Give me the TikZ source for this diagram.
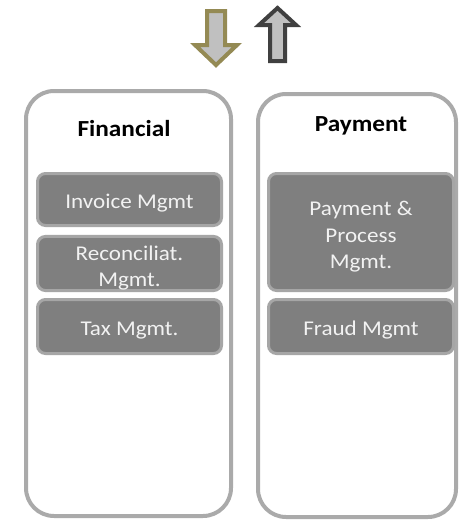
\documentclass[tikz,border=0pt]{standalone}
\usepackage{fontspec}
\setmainfont{Carlito}[FakeStretch=1.1]
\usetikzlibrary{positioning}
\definecolor{frameGray}{RGB}{170,170,170}
\definecolor{boxGray}{RGB}{127,127,127}
\definecolor{boxEdge}{RGB}{166,166,166}
\definecolor{boxText}{RGB}{242,242,242}
\definecolor{arrowTan}{RGB}{148,138,84}
\definecolor{arrowDark}{RGB}{64,64,64}
\definecolor{arrowFill}{RGB}{192,192,192}

\begin{document}
\begin{tikzpicture}[x=1pt, y=-1pt,
    domainbox/.style={draw=frameGray, line width=4pt, fill=white, rounded corners=28pt, inner sep=0pt},
    module/.style={draw=boxEdge, line width=3pt, fill=boxGray, rounded corners=8pt, minimum width=#1, inner sep=0pt, align=center, text=boxText, font=\fontsize{21}{26.5}\selectfont, execute at begin node={\rule{0pt}{22pt}}},
    module/.default=184pt,
    heading/.style={font=\fontsize{23}{27}\selectfont\bfseries, text=black}]
    \useasboundingbox (0,0) rectangle (459,522);
    % direction arrows
    \draw[draw=arrowTan, fill=arrowFill, line width=4pt] (207,11) -- (225,11) -- (225,45) -- (237,45) -- (216,65) -- (195,45) -- (207,45) -- cycle;
    \draw[draw=arrowDark, fill=arrowFill, line width=4pt] (270,61) -- (285,61) -- (285,25) -- (296,25) -- (277.5,8) -- (259,25) -- (270,25) -- cycle;
    % domains
    \node[domainbox, minimum width=205pt, minimum height=425pt] (financial) at (128.5,303.5) {};
    \node[domainbox, minimum width=198pt, minimum height=423pt] (payment) at (357,305.5) {};
    \node[heading] (financialTitle) at (124,129) {Financial};
    \node[heading] (paymentTitle) at (361,126) {Payment};
    % financial modules
    \node[module, minimum height=52pt] (invoice) at (129.5,199.5) {Invoice Mgmt};
    \node[module, minimum height=54pt] (reconcile) at (129.5,263.5) {\rule{0pt}{24pt}Reconciliat.\\Mgmt.};
    \node[module, minimum height=54pt] (tax) at (129.5,326.5) {Tax Mgmt.};
    % payment modules
    \node[module=185pt, minimum height=117pt] (process) at (361,232) {\rule{0pt}{24pt}Payment \&\\Process\\Mgmt.};
    \node[module=185pt, minimum height=54pt] (fraud) at (361,326.5) {Fraud Mgmt};
\end{tikzpicture}
\end{document}
